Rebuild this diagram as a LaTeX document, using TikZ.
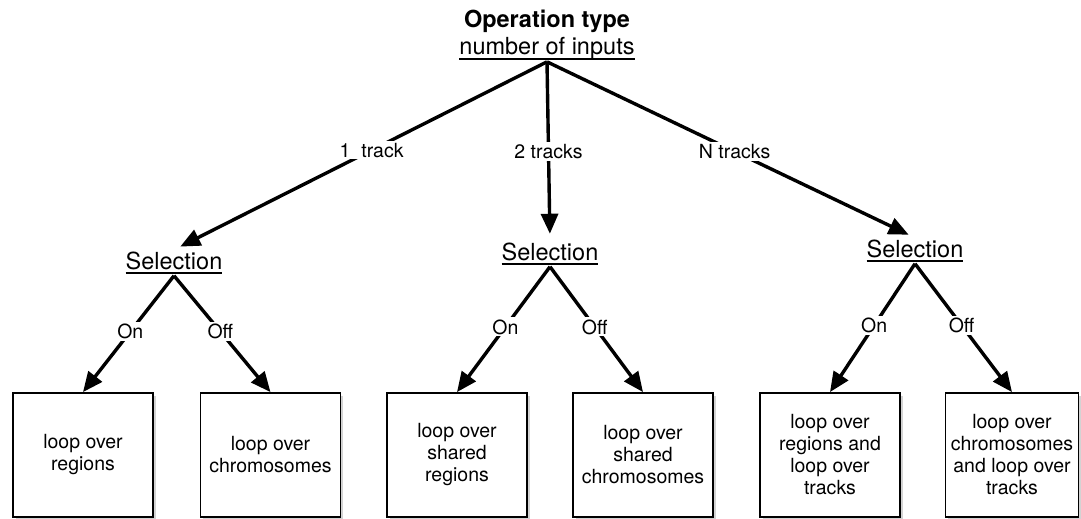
\documentclass[tikz,border=0pt]{standalone}
\usepackage{fontspec}
\setmainfont{TeX Gyre Heros}
\usetikzlibrary{arrows.meta, shadows}
\newsavebox{\ulbox}
\newcommand{\ulabel}[1]{\sbox{\ulbox}{#1}\rlap{\usebox{\ulbox}}\rule[-5pt]{\wd\ulbox}{2pt}}

\begin{document}
\begin{tikzpicture}[x=1pt, y=-1pt,
    title/.style={font=\fontsize{23.5}{28}\selectfont\bfseries, inner sep=1pt, anchor=base},
    head/.style={font=\fontsize{23.5}{28}\selectfont, inner sep=1.5pt, anchor=base},
    lbl/.style={font=\fontsize{19.5}{22}\selectfont, fill=white, inner sep=2pt},
    arr/.style={line width=3.4pt, -{Triangle[length=20pt, width=17pt]}},
    loopbox/.style={font=\fontsize{19.5}{22}\selectfont, draw, line width=1.8pt, fill=white,
        minimum width=140pt, minimum height=124pt, align=center,
        drop shadow={shadow xshift=2.5pt, shadow yshift=-2.5pt, opacity=0.35}}]
    \useasboundingbox (0,0) rectangle (1081,519);
    % root
    \node[title] (optype) at (547,28) {Operation type};
    \node[head] (inputs) at (547,55) {\ulabel{number of inputs}};
    % selections
    \node[head] (sel1) at (174,269) {\ulabel{Selection}};
    \node[head] (sel2) at (550,260) {\ulabel{Selection}};
    \node[head] (sel3) at (915,257) {\ulabel{Selection}};
    % loops
    \node[loopbox] (b1) at (83,455) {loop over\\regions};
    \node[loopbox] (b2) at (270.5,455) {loop over\\chromosomes};
    \node[loopbox] (b3) at (457,455) {loop over\\shared\\regions};
    \node[loopbox] (b4) at (643,455) {loop over\\shared\\chromosomes};
    \node[loopbox] (b5) at (830,455) {loop over\\regions and\\loop over\\tracks};
    \node[loopbox, minimum width=133pt] (b6) at (1012,455) {loop over\\chromosomes\\and loop over\\tracks};
    % number of inputs
    \draw[arr, shorten >=7pt] (inputs.south) -- node[lbl, pos=0.47] {1~ track} (sel1.north);
    \draw[arr, shorten >=7pt] (inputs.south) -- node[lbl, pos=0.5] {2 tracks} (sel2.north);
    \draw[arr, shorten >=7pt] (inputs.south) -- node[lbl, pos=0.51] {N tracks} (sel3.north);
    % selection on/off
    \foreach \s/\l/\r in {sel1/b1/b2, sel2/b3/b4, sel3/b5/b6} {
        \draw[arr] (\s.south) -- node[lbl, pos=0.48] {On} (\l.north);
        \draw[arr] (\s.south) -- node[lbl, pos=0.48] {Off} (\r.north);
    }
\end{tikzpicture}
\end{document}
